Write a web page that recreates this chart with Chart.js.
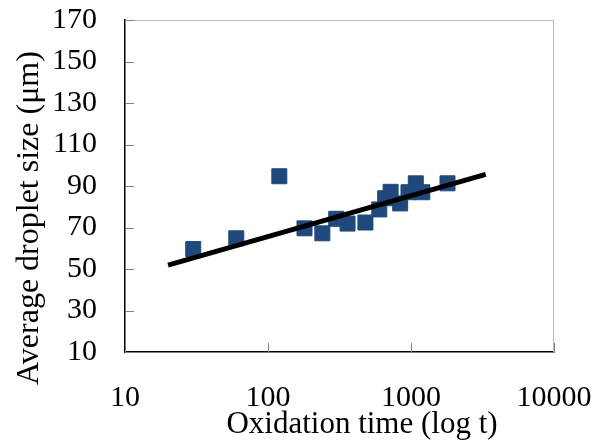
<!DOCTYPE html>
<html>
<head>
<meta charset="utf-8">
<script src="https://cdn.jsdelivr.net/npm/chart.js@4.4.1/dist/chart.umd.min.js"></script>
<style>
  html, body { margin: 0; padding: 0; background: #fff; }
  #wrap { width: 610px; height: 446px; }
</style>
</head>
<body>
<div id="wrap"><canvas id="sizeChart"></canvas></div>
<script>
// oxidation time (x, log scale) vs average droplet size (y)
const oxidationTimes = [30, 60, 120, 180, 240, 300, 360, 480, 600, 660, 720, 840, 960, 1080, 1200, 1800];
const dropletSizes = [59.6, 64.8, 94.7, 69.6, 67.2, 74.2, 71.9, 72.4, 78.7, 84.1, 87.2, 81.6, 87.0, 91.3, 87.0, 91.3];

// fitted log trend line, end points
const trendTimes = [20, 3330];
const trendSizes = [51.9, 95.6];

const xTickValues = [10, 100, 1000, 10000];
const yMin = 10, yMax = 170, yStep = 20;

const xTitle = 'Oxidation time (log t)';
const yTitle = 'Average droplet size (μm)';

const FONT = "'Liberation Serif', 'Times New Roman', serif";

// short tick marks pointing into the plot, plus the light frame on top/right
const innerTicks = {
  id: 'innerTicks',
  afterDatasetsDraw(chart) {
    const { ctx, chartArea: a, scales } = chart;
    ctx.save();
    ctx.lineWidth = 1;
    ctx.strokeStyle = '#b8b8b8';
    ctx.beginPath();
    ctx.moveTo(a.left, a.top + 0.5);
    ctx.lineTo(a.right - 0.5, a.top + 0.5);
    ctx.lineTo(a.right - 0.5, a.bottom);
    ctx.stroke();

    ctx.strokeStyle = '#808080';
    ctx.beginPath();
    scales.y.ticks.forEach(t => {
      const py = Math.round(scales.y.getPixelForValue(t.value)) + 0.5;
      ctx.moveTo(a.left, py);
      ctx.lineTo(a.left + 9, py);
    });
    scales.x.ticks.forEach(t => {
      const px = Math.round(scales.x.getPixelForValue(t.value)) + 0.5;
      ctx.moveTo(px, a.bottom);
      ctx.lineTo(px, a.bottom - 9);
    });
    ctx.stroke();
    ctx.restore();
  }
};

// axis titles sit a little off-centre in the original, so they are drawn here
const axisTitles = {
  id: 'axisTitles',
  afterDraw(chart) {
    const { ctx } = chart;
    ctx.save();
    ctx.fillStyle = '#000';
    ctx.textAlign = 'center';
    ctx.textBaseline = 'alphabetic';
    ctx.font = '31px ' + FONT;
    ctx.fillText(xTitle, 362, 433);
    ctx.translate(38, 218);
    ctx.rotate(-Math.PI / 2);
    ctx.font = '32px ' + FONT;
    ctx.fillText(yTitle, 0, 0);
    ctx.restore();
  }
};

const ctx = document.getElementById('sizeChart').getContext('2d');

new Chart(ctx, {
  type: 'scatter',
  data: {
    datasets: [{
      label: 'Droplet size',
      data: oxidationTimes.map((t, i) => ({ x: t, y: dropletSizes[i] })),
      pointStyle: 'rect',
      pointRadius: 10.6,
      pointHoverRadius: 10.6,
      backgroundColor: '#1F497D',
      borderColor: '#1F497D',
      borderWidth: 1,
      order: 2
    }, {
      label: 'Trend',
      type: 'line',
      data: trendTimes.map((t, i) => ({ x: t, y: trendSizes[i] })),
      borderColor: '#000',
      borderWidth: 5,
      pointRadius: 0,
      fill: false,
      order: 1
    }]
  },
  options: {
    responsive: true,
    maintainAspectRatio: false,
    animation: false,
    layout: { padding: 0 },
    plugins: {
      legend: { display: false },
      tooltip: { enabled: false }
    },
    scales: {
      x: {
        type: 'logarithmic',
        min: 10,
        max: 10000,
        afterBuildTicks: axis => { axis.ticks = xTickValues.map(v => ({ value: v })); },
        afterFit: axis => {
          axis.height = 94;
          axis.paddingRight = 56;
        },
        ticks: {
          color: '#000',
          font: { family: FONT, size: 30 },
          padding: 28,
          maxRotation: 0,
          autoSkip: false,
          callback: v => String(v)
        },
        grid: { drawOnChartArea: false, drawTicks: false },
        border: { color: '#000', width: 1.5 }
      },
      y: {
        min: yMin,
        max: yMax,
        afterFit: axis => {
          axis.width = 125;
          axis.paddingTop = 20;
          axis.paddingBottom = 0;
        },
        ticks: {
          stepSize: yStep,
          autoSkip: false,
          color: '#000',
          font: { family: FONT, size: 30 },
          padding: 28
        },
        grid: { drawOnChartArea: false, drawTicks: false },
        border: { color: '#000', width: 1.5 }
      }
    }
  },
  plugins: [innerTicks, axisTitles]
});
</script>
</body>
</html>
